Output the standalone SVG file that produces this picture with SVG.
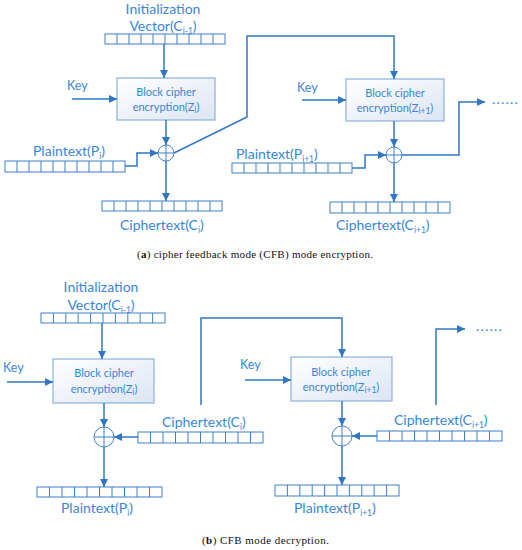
<svg xmlns="http://www.w3.org/2000/svg" width="522" height="550" viewBox="0 0 522 550">
<style>
.t{font-family:Lato,"Open Sans","Liberation Sans",sans-serif;fill:#3A86D6;font-size:14px}
.k{font-size:12.5px}
.b{font-family:Lato,"Open Sans","Liberation Sans",sans-serif;fill:#3A86D6;font-size:11px;text-anchor:middle}
.c{font-family:"Liberation Serif","DejaVu Serif",serif;fill:#111;font-size:11px}
.s{font-size:8.5px}
.d{letter-spacing:1.2px}
.reg{fill:#fff;stroke:#3F80C8;stroke-width:1}
.sep{fill:none;stroke:#3F80C8;stroke-width:1}
.blk{fill:url(#g);stroke:#8CB0DD;stroke-width:1.2}
.ln{fill:none;stroke:#2F76C4;stroke-width:1.5}
.ar{marker-end:url(#a)}
.x{fill:#fff;stroke:#4A86C8;stroke-width:1}
</style>
<defs>
<linearGradient id="g" x1="0" y1="0" x2="1" y2="1">
<stop offset="0" stop-color="#FFFFFF"/>
<stop offset="1" stop-color="#DCE5F3"/>
</linearGradient>
<marker id="a" markerUnits="userSpaceOnUse" markerWidth="9" markerHeight="9" refX="8" refY="4" orient="auto">
<path d="M0,0L8,4L0,8z" fill="#2F76C4"/>
</marker>
</defs>

<!-- (a) encryption -->
<g id="iv-a">
<text class="t" x="163" y="14" text-anchor="middle">Initialization</text>
<text class="t" x="163" y="31" text-anchor="middle">Vector(C<tspan class="s" dy="3">i-1</tspan><tspan dy="-3">)</tspan></text>
<rect class="reg" x="105" y="34" width="120" height="10"/>
<path class="sep" d="M117 34v10M129 34v10M141 34v10M153 34v10M165 34v10M177 34v10M189 34v10M201 34v10M213 34v10"/>
</g>
<g id="key-a1"><text class="t k" x="67" y="90">Key</text></g>
<g id="block-a1">
<rect class="blk" x="117" y="78" width="98" height="42"/>
<text class="b" x="166" y="96">Block cipher</text>
<text class="b" x="166" y="111">encryption(Z<tspan class="s" dy="2">i</tspan><tspan dy="-2">)</tspan></text>
</g>
<g id="pt-a1">
<text class="t" x="33" y="156">Plaintext(P<tspan class="s" dy="3">i</tspan><tspan dy="-3">)</tspan></text>
<rect class="reg" x="5" y="161" width="120" height="11"/>
<path class="sep" d="M17 161v11M29 161v11M41 161v11M53 161v11M65 161v11M77 161v11M89 161v11M101 161v11M113 161v11"/>
</g>
<g id="xor-a1">
<circle class="x" cx="166" cy="153" r="8"/>
<path class="sep" d="M158 153h16M166 145v16"/>
</g>
<g id="ct-a1">
<rect class="reg" x="102" y="201" width="120" height="10"/>
<path class="sep" d="M114 201v10M126 201v10M138 201v10M150 201v10M162 201v10M174 201v10M186 201v10M198 201v10M210 201v10"/>
<text class="t" x="120" y="230">Ciphertext(C<tspan class="s" dy="3">i</tspan><tspan dy="-3">)</tspan></text>
</g>
<g id="key-a2"><text class="t k" x="297" y="92">Key</text></g>
<g id="block-a2">
<rect class="blk" x="346" y="79" width="98" height="42"/>
<text class="b" x="395" y="97">Block cipher</text>
<text class="b" x="395" y="112">encryption(Z<tspan class="s" dy="2">i+1</tspan><tspan dy="-2">)</tspan></text>
</g>
<g id="pt-a2">
<text class="t" x="236" y="159">Plaintext(P<tspan class="s" dy="3">i+1</tspan><tspan dy="-3">)</tspan></text>
<rect class="reg" x="232" y="163" width="120" height="10"/>
<path class="sep" d="M244 163v10M256 163v10M268 163v10M280 163v10M292 163v10M304 163v10M316 163v10M328 163v10M340 163v10"/>
</g>
<g id="xor-a2">
<circle class="x" cx="394" cy="155" r="8"/>
<path class="sep" d="M386 155h16M394 147v16"/>
</g>
<g id="ct-a2">
<rect class="reg" x="330" y="202" width="120" height="11"/>
<path class="sep" d="M342 202v11M354 202v11M366 202v11M378 202v11M390 202v11M402 202v11M414 202v11M426 202v11M438 202v11"/>
<text class="t" x="336" y="230">Ciphertext(C<tspan class="s" dy="3">i+1</tspan><tspan dy="-3">)</tspan></text>
</g>
<g id="more-a"><text class="t d" x="492" y="104">......</text></g>
<g id="caption-a"><text class="c" x="137" y="258" textLength="236" lengthAdjust="spacing">(<tspan font-weight="bold">a</tspan>) cipher feedback mode (CFB) mode encryption.</text></g>

<!-- (b) decryption -->
<g id="iv-b">
<text class="t" x="101" y="292" text-anchor="middle">Initialization</text>
<text class="t" x="101" y="310" text-anchor="middle">Vector(C<tspan class="s" dy="3">i-1</tspan><tspan dy="-3">)</tspan></text>
<rect class="reg" x="41" y="313" width="124" height="10"/>
<path class="sep" d="M53.4 313v10M65.8 313v10M78.2 313v10M90.6 313v10M103 313v10M115.4 313v10M127.8 313v10M140.2 313v10M152.6 313v10"/>
</g>
<g id="key-b1"><text class="t k" x="3" y="372">Key</text></g>
<g id="block-b1">
<rect class="blk" x="53" y="359" width="101" height="44"/>
<text class="b" x="104" y="377">Block cipher</text>
<text class="b" x="104" y="393">encryption(Z<tspan class="s" dy="2">i</tspan><tspan dy="-2">)</tspan></text>
</g>
<g id="xor-b1">
<circle class="x" cx="104" cy="437" r="10"/>
<path class="sep" d="M94 437h20M104 427v20"/>
</g>
<g id="ct-b1">
<text class="t" x="162" y="427">Ciphertext(C<tspan class="s" dy="3">i</tspan><tspan dy="-3">)</tspan></text>
<rect class="reg" x="138" y="432" width="125" height="11"/>
<path class="sep" d="M150.5 432v11M163 432v11M175.5 432v11M188 432v11M200.5 432v11M213 432v11M225.5 432v11M238 432v11M250.5 432v11"/>
</g>
<g id="pt-b1">
<rect class="reg" x="37" y="487" width="125" height="10"/>
<path class="sep" d="M49.5 487v10M62 487v10M74.5 487v10M87 487v10M99.5 487v10M112 487v10M124.5 487v10M137 487v10M149.5 487v10"/>
<text class="t" x="61" y="513">Plaintext(P<tspan class="s" dy="3">i</tspan><tspan dy="-3">)</tspan></text>
</g>
<g id="key-b2"><text class="t k" x="240" y="369">Key</text></g>
<g id="block-b2">
<rect class="blk" x="291" y="357" width="101" height="44"/>
<text class="b" x="341" y="376">Block cipher</text>
<text class="b" x="341" y="391">encryption(Z<tspan class="s" dy="2">i+1</tspan><tspan dy="-2">)</tspan></text>
</g>
<g id="xor-b2">
<circle class="x" cx="342" cy="436" r="10"/>
<path class="sep" d="M332 436h20M342 426v20"/>
</g>
<g id="ct-b2">
<text class="t" x="394" y="425">Ciphertext(C<tspan class="s" dy="3">i+1</tspan><tspan dy="-3">)</tspan></text>
<rect class="reg" x="377" y="431" width="125" height="10"/>
<path class="sep" d="M389.5 431v10M402 431v10M414.5 431v10M427 431v10M439.5 431v10M452 431v10M464.5 431v10M477 431v10M489.5 431v10"/>
</g>
<g id="pt-b2">
<rect class="reg" x="275" y="485" width="124" height="11"/>
<path class="sep" d="M287.4 485v11M299.8 485v11M312.2 485v11M324.6 485v11M337 485v11M349.4 485v11M361.8 485v11M374.2 485v11M386.6 485v11"/>
<text class="t" x="294" y="513">Plaintext(P<tspan class="s" dy="3">i+1</tspan><tspan dy="-3">)</tspan></text>
</g>
<g id="more-b"><text class="t d" x="476" y="331">......</text></g>
<g id="caption-b"><text class="c" x="202" y="544" textLength="127" lengthAdjust="spacing">(<tspan font-weight="bold">b</tspan>) CFB mode decryption.</text></g>

<g id="connectors">
<path class="ln ar" d="M164 44V78"/>
<path class="ln ar" d="M72 99H117"/>
<path class="ln ar" d="M166 120V145"/>
<path class="ln ar" d="M125 166H137V153H158"/>
<path class="ln ar" d="M166 161V201"/>
<path class="ln ar" d="M174 153L247 117V36H394V79"/>
<path class="ln ar" d="M302 100H346"/>
<path class="ln ar" d="M394 121V147"/>
<path class="ln ar" d="M352 168H365V155H386"/>
<path class="ln ar" d="M394 163V202"/>
<path class="ln ar" d="M402 155H459V102H485"/>

<path class="ln ar" d="M102 323V359"/>
<path class="ln ar" d="M7 382H53"/>
<path class="ln ar" d="M104 403V427"/>
<path class="ln ar" d="M138 437H114"/>
<path class="ln ar" d="M104 447V487"/>
<path class="ln ar" d="M201 405V318H342V357"/>
<path class="ln ar" d="M245 380H291"/>
<path class="ln ar" d="M342 401V426"/>
<path class="ln ar" d="M377 436H352"/>
<path class="ln ar" d="M342 446V485"/>
<path class="ln ar" d="M436 405V329H465"/>
</g>
</svg>
